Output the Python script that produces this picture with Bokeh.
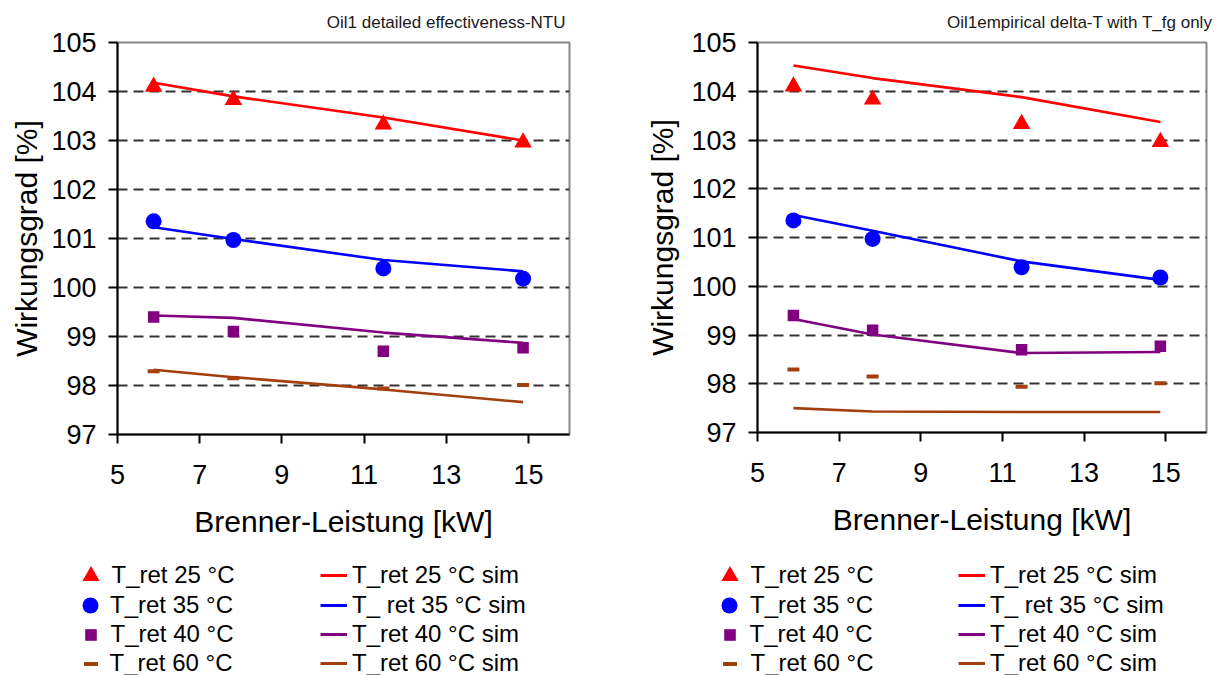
from bokeh.plotting import figure
from bokeh.layouts import row, column
from bokeh.models import Range1d, FixedTicker, Legend, LegendItem
from bokeh.embed import file_html
from bokeh.resources import INLINE

FONT = "Liberation Sans"

# ---------------- data ----------------
x_meas = [5.88, 7.82, 11.47, 14.87]

meas_25 = [104.10, 103.83, 103.33, 102.96]
meas_35 = [101.35, 100.97, 100.39, 100.18]
meas_40 = [99.40, 99.10, 98.70, 98.77]
meas_60 = [98.29, 98.15, 97.94, 98.01]

# left chart: detailed effectiveness-NTU
ntu_25 = [104.18, 103.90, 103.47, 103.00]
ntu_35 = [101.23, 100.99, 100.56, 100.33]
ntu_40 = [99.43, 99.38, 99.08, 98.87]
ntu_60 = [98.32, 98.17, 97.92, 97.66]

# right chart: empirical delta-T with T_fg only
emp_25 = [104.53, 104.27, 103.88, 103.37]
emp_35 = [101.46, 101.14, 100.51, 100.13]
emp_40 = [99.33, 99.01, 98.63, 98.65]
emp_60 = [97.50, 97.43, 97.42, 97.42]

labels_meas = ["T_ret 25 °C", "T_ret 35 °C", "T_ret 40 °C", "T_ret 60 °C"]
labels_sim = ["T_ret 25 °C sim", "T_ ret 35 °C sim", "T_ret 40 °C sim", "T_ret 60 °C sim"]

x_ticks = [5, 7, 9, 11, 13, 15]
y_ticks = [97, 98, 99, 100, 101, 102, 103, 104, 105]

titles = ["Oil1 detailed effectiveness-NTU", "Oil1empirical delta-T with T_fg only"]

RED = "#FF0000"
BLUE = "#0000FF"
PURPLE = "#800080"
BROWN = "#A33F0C"
colors = [RED, BLUE, PURPLE, BROWN]
markers = ["triangle", "circle", "square", "dash"]
marker_sizes = [17.5, 16, 11.5, 12]
legend_glyph = [43, 40, 29, 35]

PAGE_W = 1227
CHART_H = 550
LEG_H = 675 - CHART_H
legend_rows = [575, 605, 634, 663]

meas_all = [meas_25, meas_35, meas_40, meas_60]


def add_series(p, sims, lw=2.6):
    line_rs = []
    for ys, c in zip(sims, colors):
        line_rs.append(p.line(x_meas, ys, line_color=c, line_width=lw))
    mark_rs = []
    for ys, c, m, s in zip(meas_all, colors, markers, marker_sizes):
        if m == "dash":
            r = p.scatter(x_meas, ys, marker=m, size=s, line_color=c, line_width=4)
        else:
            r = p.scatter(x_meas, ys, marker=m, size=s, fill_color=c, line_color=None)
        mark_rs.append(r)
    return line_rs, mark_rs


def make_chart(title, sims, fig_x, fig_w, FL, FR, FT, FB, title_offset, ylab_standoff):
    fw = FR - FL
    fh = FB - FT
    mbl = FL - fig_x
    mbr = fig_w - mbl - fw
    p = figure(frame_width=fw, frame_height=fh,
               min_border_left=mbl, min_border_right=mbr,
               min_border_top=FT, min_border_bottom=CHART_H - FB,
               x_range=Range1d(5, 16), y_range=Range1d(97, 105),
               output_backend="svg", toolbar_location=None,
               background_fill_color="white", border_fill_color="white")
    p.title.text = title
    p.title.align = "right"
    p.title.vertical_align = "top"
    p.title.offset = title_offset
    p.title.text_font = FONT
    p.title.text_font_size = "17px"
    p.title.text_font_style = "normal"
    p.title.text_color = "#1a1a1a"
    p.title.standoff = 18

    p.outline_line_color = "#878787"
    p.outline_line_width = 2

    for ax in (p.xaxis[0], p.yaxis[0]):
        ax.axis_line_color = "black"
        ax.axis_line_width = 2
        ax.major_tick_line_color = "black"
        ax.major_tick_line_width = 2
        ax.major_tick_out = 9
        ax.major_tick_in = 0
        ax.minor_tick_out = 0
        ax.minor_tick_in = 0
        ax.major_label_text_font = FONT
        ax.major_label_text_font_size = "27px"
        ax.major_label_text_color = "black"
        ax.axis_label_text_font = FONT
        ax.axis_label_text_font_size = "30px"
        ax.axis_label_text_font_style = "normal"
        ax.axis_label_text_color = "black"
    p.xaxis.ticker = FixedTicker(ticks=x_ticks, minor_ticks=[])
    p.yaxis.ticker = FixedTicker(ticks=y_ticks, minor_ticks=[])
    p.xaxis.axis_label = "Brenner-Leistung [kW]"
    p.yaxis.axis_label = "Wirkungsgrad [%]"
    p.xaxis.major_label_standoff = 21
    p.yaxis.major_label_standoff = 12
    p.xaxis.axis_label_standoff = 18
    p.yaxis.axis_label_standoff = ylab_standoff

    p.xgrid.visible = False
    p.ygrid.grid_line_color = "#333333"
    p.ygrid.grid_line_width = 2
    p.ygrid.grid_line_dash = "10 6"

    add_series(p, sims)
    return p


W1 = 620
W2 = PAGE_W - W1
left = make_chart(titles[0], [ntu_25, ntu_35, ntu_40, ntu_60], 0, W1,
                  117, 569, 42, 434, 4, 5)
right = make_chart(titles[1], [emp_25, emp_35, emp_40, emp_60], W1, W2,
                   757, 1206, 42, 432, -6, 9)

# ---------------- legend strip below both charts ----------------
leg = figure(width=PAGE_W, height=LEG_H, min_border=0,
             x_range=Range1d(0, 1), y_range=Range1d(0, 1),
             x_axis_type=None, y_axis_type=None,
             output_backend="svg", toolbar_location=None,
             outline_line_color=None, background_fill_color="white",
             border_fill_color="white")
leg.xgrid.visible = False
leg.ygrid.visible = False
# proxy renderers (real data, lying outside this strip's ranges, so invisible)
proxy_lines, proxy_marks = add_series(leg, [ntu_25, ntu_35, ntu_40, ntu_60], lw=3)

common = dict(padding=0, margin=0, border_line_alpha=0, background_fill_alpha=0,
              label_text_font=FONT, label_text_font_size="24px",
              label_text_color="black", spacing=0, orientation="vertical")
LEG_BOTTOM = 675
# (marker centre x, label x, line x0, line x1, line label x) for each chart
legend_cols = [(90, 110, 320, 347, 352), (729, 750, 958, 985, 990)]
for (mcx, mtx, lx0, lx1, ltx) in legend_cols:
    for i, cy in enumerate(legend_rows):
        g = legend_glyph[i]
        l1 = Legend(items=[LegendItem(label=labels_meas[i], renderers=[proxy_marks[i]])],
                    location=(mcx - g / 2, LEG_BOTTOM - (cy + g / 2)),
                    glyph_width=g, glyph_height=g, label_height=g,
                    label_standoff=int(round(mtx - mcx - g / 2)), **common)
        leg.add_layout(l1, "center")
        gh = 30
        l2 = Legend(items=[LegendItem(label=labels_sim[i], renderers=[proxy_lines[i]])],
                    location=(lx0, LEG_BOTTOM - (cy + gh / 2)),
                    glyph_width=lx1 - lx0, glyph_height=gh, label_height=gh,
                    label_standoff=ltx - lx1, **common)
        leg.add_layout(l2, "center")

layout = column(row(left, right), leg)
open("out.html", "w").write(file_html(layout, INLINE))
